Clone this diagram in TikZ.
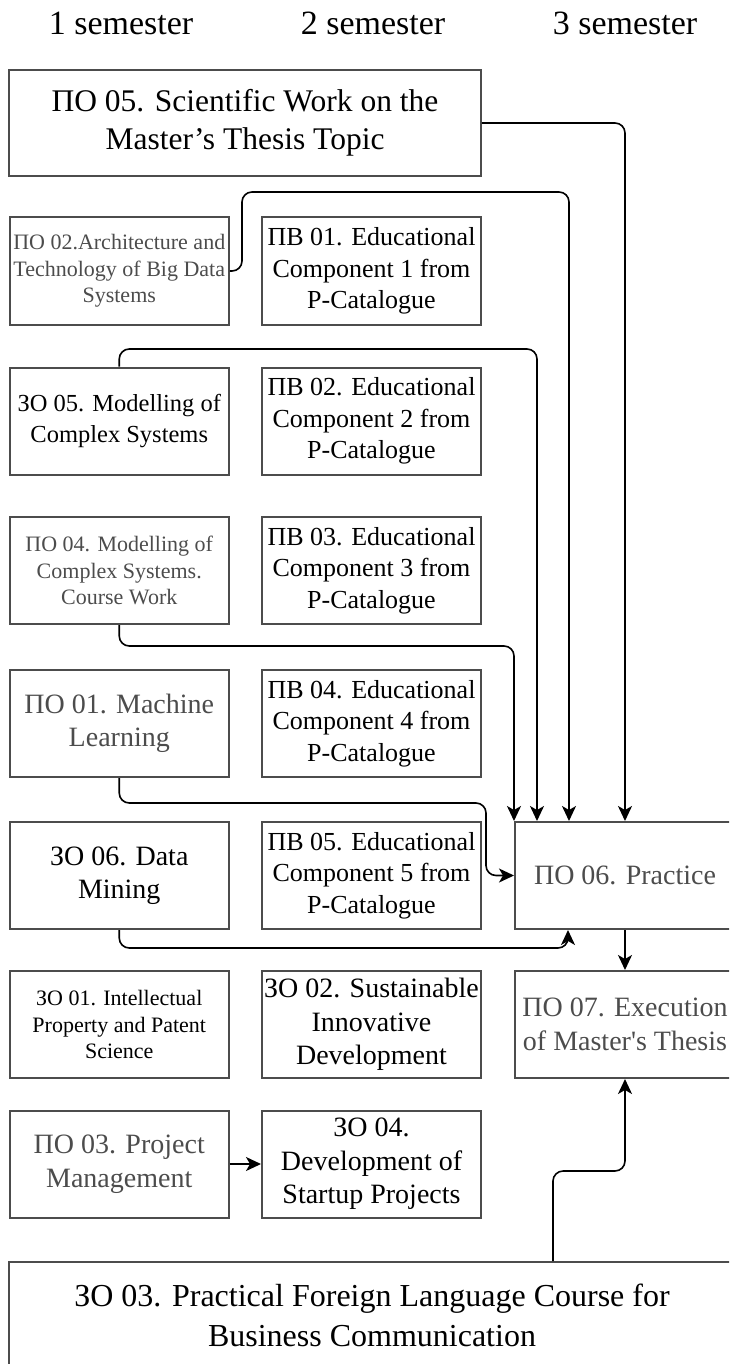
\documentclass[tikz,border=0pt]{standalone}
\usepackage{fontspec}
\setmainfont{Liberation Serif}[Ligatures=TeXOff]
\usetikzlibrary{arrows.meta}

\begin{document}
\begin{tikzpicture}[x=1pt, y=-1pt,
	course/.style={draw=black!70, line width=2pt, minimum width=219pt, minimum height=107pt, inner sep=0pt, align=center},
	smalltxt/.style={font=\fontsize{22}{26.5}\selectfont},
	pbtxt/.style={font=\fontsize{26}{31.5}\selectfont},
	midtxt/.style={font=\fontsize{28}{33.5}\selectfont},
	bigtxt/.style={font=\fontsize{31.5}{38}\selectfont},
	greytxt/.style={text=black!70},
	conn/.style={-{Stealth[length=15pt, width=14pt, inset=4pt]}, line width=1.6pt, rounded corners=10pt}]
	\clip (0,0) rectangle (729,1364);

	%semester headers
	\foreach \s/\x in {1/121, 2/373, 3/625}{
		\node[anchor=base, font=\fontsize{34}{40}\selectfont] (sem\s) at (\x, 35){\s{} semester};
	}

	%first column
	\node[course, bigtxt, minimum width=471.5pt, minimum height=106pt] (po05) at (245, 123){ПО 05. Scientific Work on the\\Master’s Thesis Topic};
	\node[course, smalltxt, greytxt] (po02) at (119.25, 271){ПО 02.Architecture and\\Technology of Big Data\\Systems};
	\node[course, font=\fontsize{24.5}{31.5}\selectfont] (zo05) at (119.25, 421){ЗО 05. Modelling of\\Complex Systems};
	\node[course, smalltxt, greytxt] (po04) at (119.25, 570.5){ПО 04. Modelling of\\Complex Systems.\\Course Work};
	\node[course, midtxt, greytxt] (po01) at (119.25, 723.5){ПО 01. Machine\\Learning};
	\node[course, midtxt] (zo06) at (119.25, 875.5){ЗО 06. Data\\Mining};
	\node[course, smalltxt] (zo01) at (119.25, 1024.5){ЗО 01. Intellectual\\Property and Patent\\Science};
	\node[course, midtxt, greytxt] (po03) at (119.25, 1164){ПО 03. Project\\Management};

	%second column
	\foreach \i/\y in {1/271, 2/421, 3/570.5, 4/723.5, 5/875.5}{
		\node[course, pbtxt] (pb\i) at (371.5, \y){ПВ 0\i. Educational\\Component \i{} from\\P-Catalogue};
	}
	\node[course, midtxt] (zo02) at (371.5, 1024.5){ЗО 02. Sustainable\\Innovative\\Development};
	\node[course, midtxt] (zo04) at (371.5, 1164){ЗО 04.\\Development of\\Startup Projects};

	%third column
	\node[course, midtxt, greytxt, minimum width=220pt] (prac) at (625, 875.5){ПО 06. Practice};
	\node[course, midtxt, greytxt, minimum width=220pt] (po07) at (625, 1024.5){ПО 07. Execution\\of Master's Thesis};

	\node[course, bigtxt, font=\fontsize{32}{40}\selectfont, minimum width=726pt] (zo03) at (372, 1315.5){ЗО 03. Practical Foreign Language Course for\\Business Communication};

	%connections to practice
	\draw[conn] (po05.east) -| (prac.north);
	\draw[conn] (po02.east) -- (242, 271) -- (242, 192) -| ([xshift=-56pt]prac.north);
	\draw[conn] (zo05.north) -- (119.25, 349) -| ([xshift=-88pt]prac.north);
	\draw[conn] (po04.south) -- (119.25, 646) -| (prac.north west);
	\draw[conn] (po01.south) -- (119.25, 803) -- (486, 803) |- (prac.west);
	\draw[conn] (zo06.south) -- (119.25, 948) -| ([xshift=-57pt]prac.south);

	%thesis
	\draw[conn] (prac.south) -- (po07.north);
	\draw[conn] ([xshift=181pt]zo03.north) -- (553, 1171) -| (po07.south);
	\draw[conn] (po03) -- (zo04);
\end{tikzpicture}
\end{document}
